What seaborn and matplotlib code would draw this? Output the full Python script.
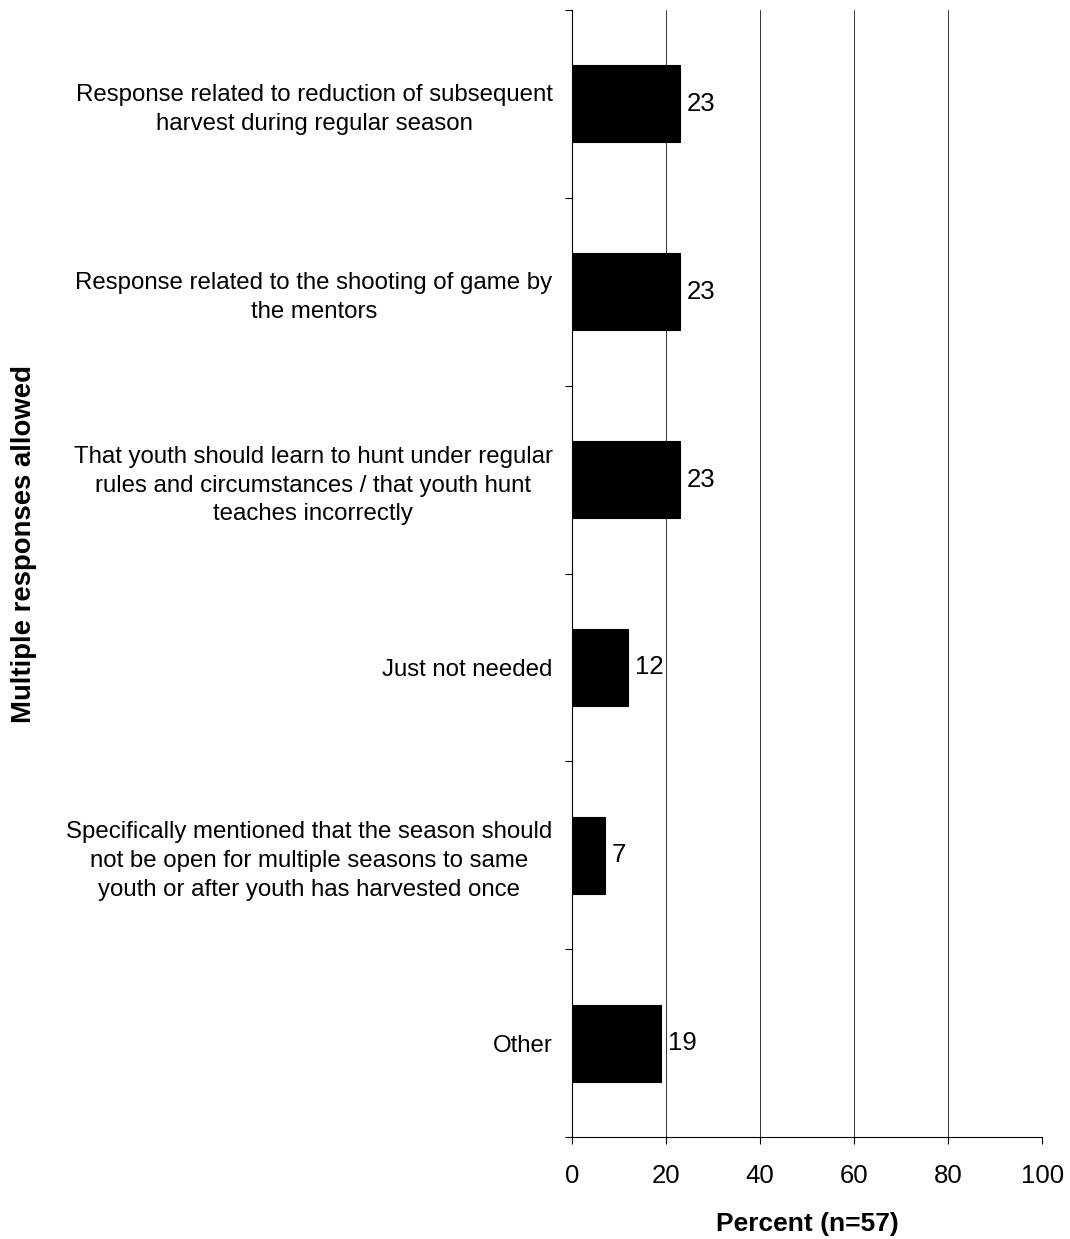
import matplotlib
matplotlib.use("Agg")
import matplotlib.pyplot as plt
import seaborn as sns
import pandas as pd
import numpy as np

# Data
categories = [
    "Response related to reduction of subsequent\nharvest during regular season",
    "Response related to the shooting of game by\nthe mentors",
    "That youth should learn to hunt under regular\nrules and circumstances / that youth hunt\nteaches incorrectly",
    "Just not needed",
    "Specifically mentioned that the season should\nnot be open for multiple seasons to same\nyouth or after youth has harvested once",
    "Other",
]
percents = [23, 23, 23, 12, 7, 19]
x_ticks = [0, 20, 40, 60, 80, 100]

df = pd.DataFrame({"category": categories, "percent": percents})

sns.set_theme(style="white")
plt.rcParams["font.family"] = ["Liberation Sans", "DejaVu Sans"]
plt.rcParams["text.color"] = "black"
plt.rcParams["xtick.color"] = "black"
plt.rcParams["ytick.color"] = "black"
plt.rcParams["axes.labelcolor"] = "black"

fig = plt.figure(figsize=(10.7, 12.39), dpi=100)
ax = fig.add_axes([0.5346, 0.0823, 0.4393, 0.9096])

sns.barplot(data=df, x="percent", y="category", color="black",
            width=0.41, saturation=1, edgecolor="black", linewidth=0.8,
            ax=ax, zorder=3)

ax.set_xlim(0, 100)
ax.set_ylim(len(categories) - 0.5, -0.5)
ax.set_xticks(x_ticks)
ax.set_xticklabels([str(t) for t in x_ticks], fontsize=18.5)
ax.xaxis.grid(True, color="#333333", linewidth=0.7, zorder=0)
ax.yaxis.grid(False)

# category labels without tick marks, tick marks at category boundaries
ax.tick_params(axis="y", which="major", length=0, pad=14, labelsize=17.3)
ax.set_yticks(np.arange(-0.5, len(categories) + 0.5, 1), minor=True)
ax.tick_params(axis="y", which="minor", length=5, width=0.8, color="black", direction="out", left=True)
ax.tick_params(axis="x", which="major", length=5, width=0.8, color="black", direction="out", bottom=True, pad=14.5)
for lbl in ax.get_yticklabels():
    lbl.set_multialignment("center")
    lbl.set_linespacing(1.4)

for sp in ["top", "right"]:
    ax.spines[sp].set_visible(False)
for sp in ["left", "bottom"]:
    ax.spines[sp].set_color("black")
    ax.spines[sp].set_linewidth(0.8)

for i, v in enumerate(percents):
    ax.text(v + 1.4, i, str(v), va="center", ha="left", fontsize=18.5, color="black", zorder=4)

ax.set_xlabel("Percent (n=57)", fontsize=19, fontweight="bold", labelpad=17)
ax.set_ylabel("")
fig.text(0.0224, 0.561, "Multiple responses allowed", rotation=90, va="center", ha="center",
         fontsize=19.8, fontweight="bold")

fig.savefig("out.png", dpi=100)
